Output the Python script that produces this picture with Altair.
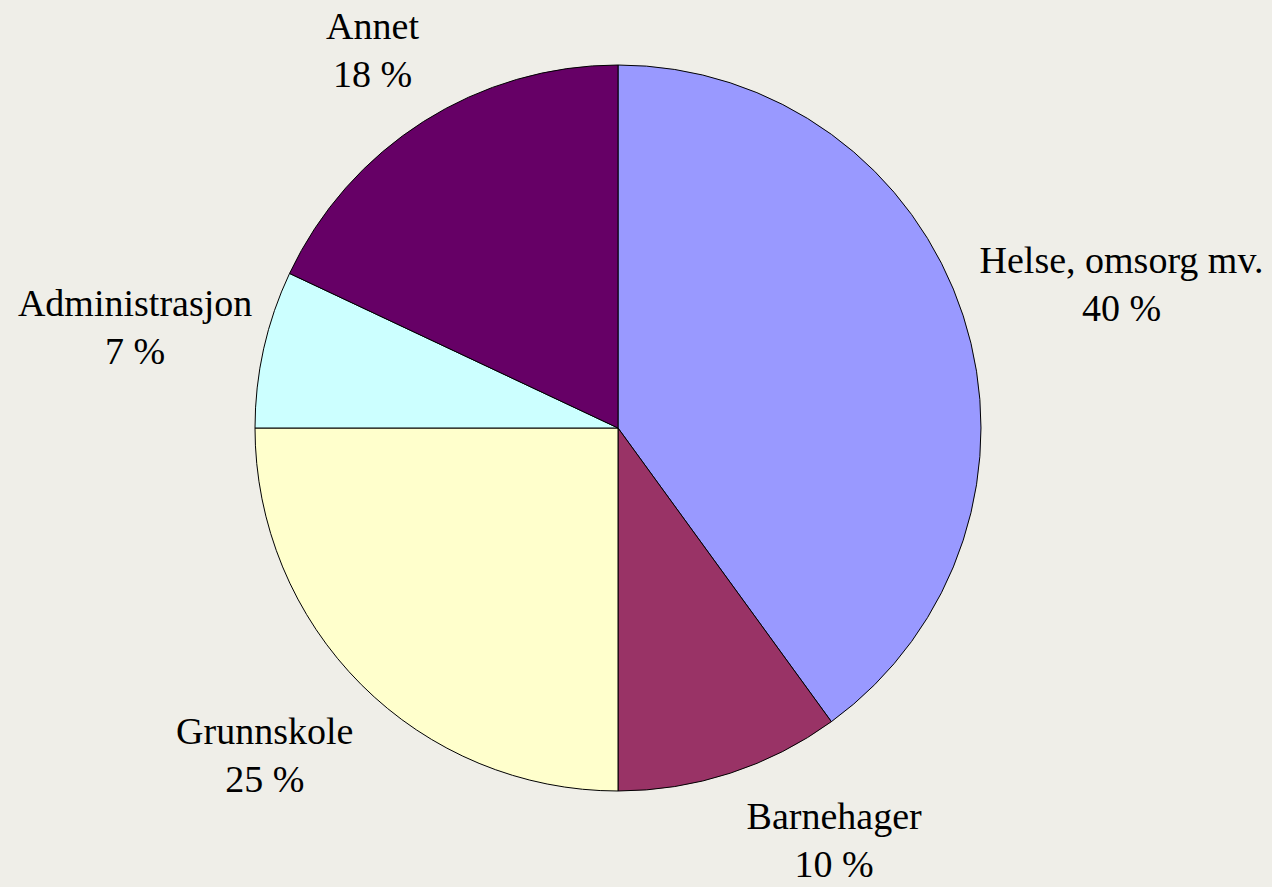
import altair as alt
import pandas as pd

categories = ["Helse, omsorg mv.", "Barnehager", "Grunnskole", "Administrasjon", "Annet"]
shares = [40, 10, 25, 7, 18]
colors = ["#9999FF", "#993366", "#FFFFCC", "#CCFFFF", "#660066"]

df = pd.DataFrame({
    "cat": categories,
    "value": shares,
    "idx": list(range(len(categories))),
})
df["label"] = [f"{c}\n{v} %" for c, v in zip(categories, shares)]

# label nudges (pixels) relative to the slice mid-angle point
nudges = {
    "Helse, omsorg mv.": (66, -24),
    "Barnehager": (74, -47),
    "Grunnskole": (-28, -20),
    "Administrasjon": (-34, -23),
    "Annet": (1, -12),
}

base = alt.Chart(df)

pie = base.mark_arc(outerRadius=363, stroke="black", strokeWidth=1).encode(
    theta=alt.Theta("value:Q", stack=True),
    color=alt.Color("cat:N", scale=alt.Scale(domain=categories, range=colors), legend=None),
    order=alt.Order("idx:Q"),
)

text_layers = []
for cat, (dx, dy) in nudges.items():
    t = base.transform_window(
        cum="sum(value)", sort=[alt.SortField("idx")]
    ).transform_calculate(
        mid="datum.cum - datum.value / 2"
    ).transform_filter(
        alt.datum.cat == cat
    ).mark_text(
        radius=460, dx=dx, dy=dy, font="Liberation Serif", fontSize=38,
        lineBreak="\n", lineHeight=48, align="center", baseline="middle", color="black",
    ).encode(
        theta=alt.Theta("mid:Q", stack=False, scale=alt.Scale(domain=[0, 100])),
        text="label:N",
    )
    text_layers.append(t)

chart = alt.layer(pie, *text_layers).resolve_scale(theta="independent").properties(
    width=1236, height=856,
    padding={"left": 0, "top": 0, "right": 36, "bottom": 31},
    autosize=alt.AutoSizeParams(type="none"),
    background="#EFEEE8",
).configure_view(stroke=None)

chart.save("out.html", embed_options={"renderer": "svg", "actions": False})
